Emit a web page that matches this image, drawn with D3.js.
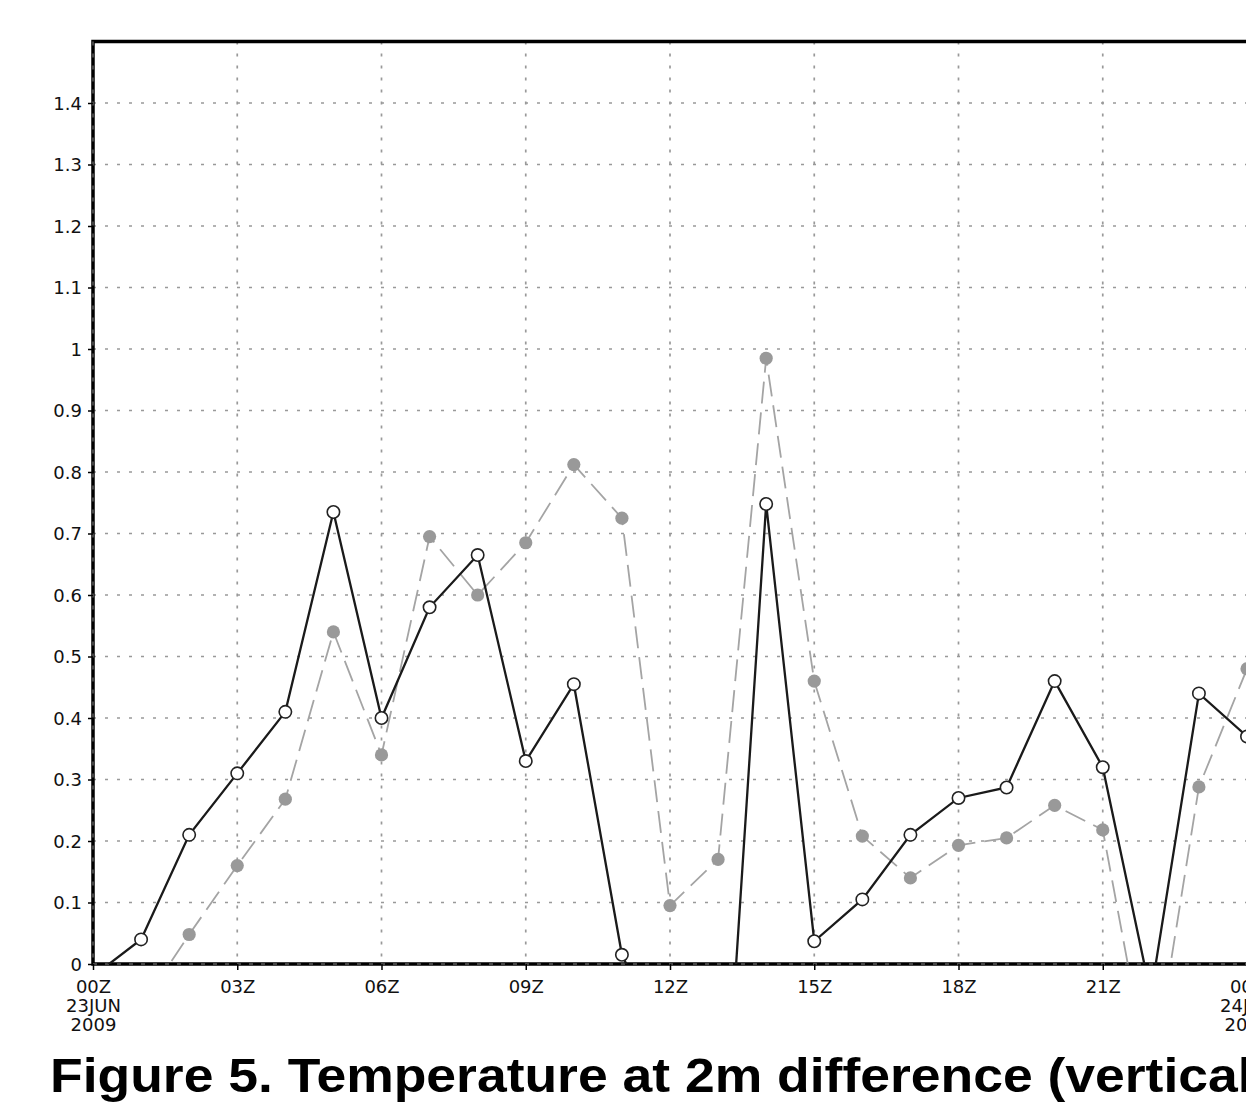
<!DOCTYPE html>
<html>
<head>
<meta charset="utf-8">
<script src="https://cdn.jsdelivr.net/npm/d3@7"></script>
<style>
html,body{margin:0;padding:0;background:#fff;overflow:hidden;}
svg{display:block;}
</style>
</head>
<body>
<svg id="chart" width="1246" height="1115"></svg>
<script>
// ---- data ----
const hours = [0,1,2,3,4,5,6,7,8,9,10,11,12,13,14,15,16,17,18,19,20,21,22,23,24];
const seriesA = [-0.02,0.04,0.21,0.31,0.41,0.735,0.40,0.58,0.665,0.33,0.455,0.015,-0.15,-0.45,0.748,0.037,0.105,0.21,0.27,0.287,0.46,0.32,-0.05,0.44,0.37];
const seriesB = [-0.15,-0.07,0.048,0.16,0.268,0.54,0.34,0.695,0.60,0.685,0.812,0.725,0.095,0.17,0.985,0.46,0.208,0.14,0.193,0.205,0.258,0.218,-0.2,0.288,0.48];
const yTicks = [0,0.1,0.2,0.3,0.4,0.5,0.6,0.7,0.8,0.9,1,1.1,1.2,1.3,1.4];
const xTickHours = [0,3,6,9,12,15,18,21,24];
const xTickLabels = ["00Z","03Z","06Z","09Z","12Z","15Z","18Z","21Z","00Z"];
const xTickSub = {0:["23JUN","2009"],24:["24JUN","2009"]};
const titleText = "Figure 5. Temperature at 2m difference (vertical";

const svg = d3.select("#chart");
const x = d3.scaleLinear().domain([0,24]).range([93,1247]);
const y = d3.scaleLinear().domain([0,1.5]).range([964,41.5]);
const pL = x(0), pR = 1262, pT = y(1.5), pB = y(0);
const lblFont = "DejaVu Sans";

svg.append("defs").append("clipPath").attr("id","plotclip")
  .append("rect").attr("x",pL).attr("y",pT).attr("width",pR-pL).attr("height",pB-pT);

// grid
const grid = svg.append("g");
grid.selectAll("line.h").data(yTicks).join("line")
  .attr("x1",pL).attr("x2",pR).attr("y1",d=>y(d)).attr("y2",d=>y(d))
  .attr("stroke","#999").attr("stroke-width",1.7).attr("stroke-dasharray","3,9");
grid.selectAll("line.v").data(xTickHours).join("line")
  .attr("x1",d=>x(d)).attr("x2",d=>x(d)).attr("y1",pT).attr("y2",pB)
  .attr("stroke","#999").attr("stroke-width",1.7).attr("stroke-dasharray","3,9");

// frame
svg.append("path")
  .attr("d",`M${pR},${pT}H${pL}V${pB}H${pR}`)
  .attr("fill","none").attr("stroke","#000").attr("stroke-width",3.5);
svg.append("line").attr("x1",pL).attr("x2",pR).attr("y1",pB).attr("y2",pB)
  .attr("stroke","#888").attr("stroke-width",1).attr("stroke-dasharray","4,8");
svg.append("line").attr("x1",pL).attr("x2",pL).attr("y1",pT).attr("y2",pB)
  .attr("stroke","#888").attr("stroke-width",1).attr("stroke-dasharray","4,8");

// y axis ticks & labels
const yAxis = d3.axisLeft(y).tickValues(yTicks).tickSize(5).tickPadding(6)
  .tickFormat(d=>d===0?"0":(d===1?"1":d3.format(".1f")(d)));
const ya = svg.append("g").attr("transform",`translate(${pL},0)`).call(yAxis);
ya.select(".domain").remove();
ya.selectAll("line").attr("stroke","#000").attr("stroke-width",1.5);
ya.selectAll("text").attr("font-family",lblFont).attr("font-size","18px").attr("fill","#111")
  .attr("dy","0.36em");

// x axis
const xAxis = d3.axisBottom(x).tickValues(xTickHours).tickSize(6).tickPadding(10)
  .tickFormat((d,i)=>xTickLabels[i]);
const xa = svg.append("g").attr("transform",`translate(0,${pB})`).call(xAxis);
xa.select(".domain").remove();
xa.selectAll("line").attr("stroke","#000").attr("stroke-width",1.5);
xa.selectAll("text").attr("font-family",lblFont).attr("font-size","18px").attr("fill","#111");
xa.selectAll(".tick").each(function(d){
  if(xTickSub[d]){
    const g=d3.select(this);
    xTickSub[d].forEach((s,k)=>{
      g.append("text").attr("y",16+19*(k+1)).attr("dy","0.71em").attr("text-anchor","middle")
        .attr("font-family",lblFont).attr("font-size","18px").attr("fill","#111").text(s);
    });
  }
});

// series
const plot = svg.append("g").attr("clip-path","url(#plotclip)");
const dataB = hours.map((h,i)=>({h,v:seriesB[i]}));
const dataA = hours.map((h,i)=>({h,v:seriesA[i]}));
const line = d3.line().x(d=>x(d.h)).y(d=>y(d.v));

plot.append("path").datum(dataB).attr("d",line).attr("fill","none")
  .attr("stroke","#a4a4a4").attr("stroke-width",1.8).attr("stroke-dasharray","22,9");
plot.selectAll("circle.b").data(dataB.filter(d=>d.v>=0)).join("circle")
  .attr("cx",d=>x(d.h)).attr("cy",d=>y(d.v)).attr("r",6.6).attr("fill","#999");

plot.append("path").datum(dataA).attr("d",line).attr("fill","none")
  .attr("stroke","#1a1a1a").attr("stroke-width",2.3);
plot.selectAll("circle.a").data(dataA.filter(d=>d.v>=0)).join("circle")
  .attr("cx",d=>x(d.h)).attr("cy",d=>y(d.v)).attr("r",6.2)
  .attr("fill","#fff").attr("stroke","#222").attr("stroke-width",1.6);

// title
const t = svg.append("text").attr("x",50).attr("y",1092)
  .attr("font-family","Liberation Sans, Arial, sans-serif").attr("font-weight","bold")
  .attr("font-size","49px").attr("fill","#000").text(titleText);
const sub = t.node().getSubStringLength(0, titleText.length-1);
const sx = (1238-50)/sub;
t.attr("transform",`translate(50,0) scale(${sx},1) translate(-50,0)`);
</script>
</body>
</html>
